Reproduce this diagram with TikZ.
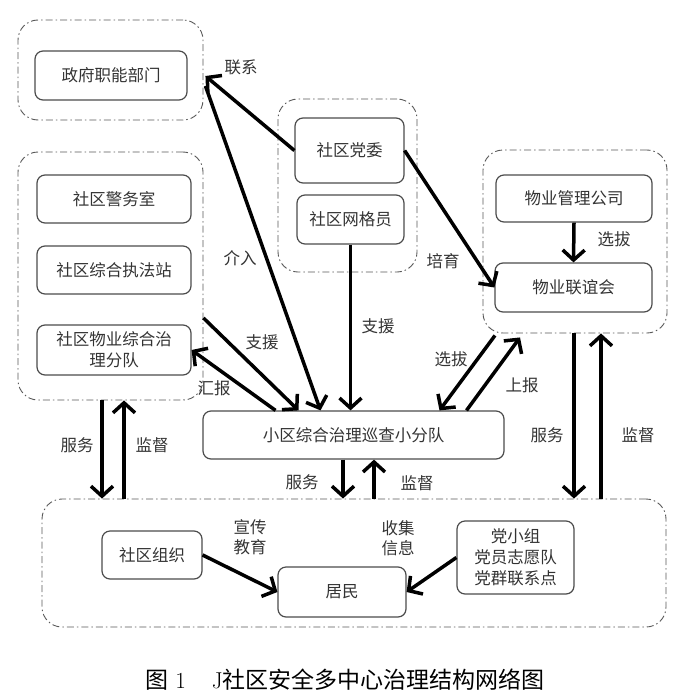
\documentclass[tikz,border=0pt]{standalone}
\usepackage{fontspec}
\newfontfamily\cjk{Noto Sans CJK SC}
\usetikzlibrary{calc,arrows.meta}

\begin{document}
\begin{tikzpicture}[x=1pt,y=-1pt,
 box/.style={draw=black!70,line width=1.2pt,rounded corners=8pt,inner sep=2pt,text=black!80,font=\cjk\fontsize{16.5}{21}\selectfont,align=center},
 grp/.style={draw=black!65,line width=0.9pt,rounded corners=20pt,dash pattern=on 7pt off 3pt on 1.5pt off 3pt},
 arr/.style={line width=3.5pt,-{Straight Barb[length=10pt,width=22pt]}},
 lbl/.style={text=black!80,font=\cjk\fontsize{16.5}{20}\selectfont,align=center}]
 \useasboundingbox (0,0) rectangle (700,698);
 % groups
 \node[grp,minimum width=185pt,minimum height=100pt] (gGov) at (110.5,70) {};
 \node[grp,minimum width=185pt,minimum height=248pt] (gLeft) at (110.5,276) {};
 \node[grp,minimum width=139pt,minimum height=173pt] (gParty) at (347.5,185.5) {};
 \node[grp,minimum width=184pt,minimum height=183pt] (gProp) at (575,241.5) {};
 \node[grp,minimum width=624pt,minimum height=128pt] (gBottom) at (354,563) {};
 % boxes
 \node[box,minimum width=152pt,minimum height=49pt] (gov) at (111,75.5) {政府职能部门};
 \node[box,minimum width=154pt,minimum height=48pt] (police) at (114,199) {社区警务室};
 \node[box,minimum width=154pt,minimum height=48pt] (law) at (114,270) {社区综合执法站};
 \node[box,minimum width=154pt,minimum height=50pt] (squad) at (114,350) {社区物业综合治\\理分队};
 \node[box,minimum width=109pt,minimum height=65pt] (party) at (349.5,150.5) {社区党委};
 \node[box,minimum width=107pt,minimum height=49pt] (grid) at (350.5,219.5) {社区网格员};
 \node[box,minimum width=156pt,minimum height=47pt] (company) at (574,198.5) {物业管理公司};
 \node[box,minimum width=157pt,minimum height=49pt] (assoc) at (573.5,287.5) {物业联谊会};
 \node[box,minimum width=301pt,minimum height=48pt] (patrol) at (353.5,435) {小区综合治理巡查小分队};
 \node[box,minimum width=100pt,minimum height=48pt] (org) at (152,555) {社区组织};
 \node[box,minimum width=128pt,minimum height=50pt] (res) at (342,592) {居民};
 \node[box,minimum width=117pt,minimum height=73pt] (pgrp) at (515.5,557.5) {党小组\\党员志愿队\\党群联系点};
 % upper arrows
 \draw[arr] (party.west) -- ($(gGov.east)+(2,6)$);
 \draw[arr] ($(gGov.east)+(2,16)$) -- ($(patrol.north)+(-33,0)$);
 \draw[arr] ($(gLeft.east)+(0,42)$) -- ($(patrol.north)+(-55,0)$);
 \draw[arr] ($(patrol.north)+(-78,0)$) -- (squad.east);
 \draw[arr] (grid.south) -- (grid.south |- patrol.north);
 \draw[arr] (party.east) -- (assoc.west);
 \draw[arr] (company.south) -- (assoc.north);
 \draw[arr] ($(gProp.south)+(-80,2)$) -- ($(patrol.north)+(86,0)$);
 \draw[arr] ($(patrol.north)+(113,0)$) -- ($(gProp.south)+(-55,4)$);
 % vertical pairs
 \coordinate (sL) at ($(gLeft.south)+(-8.5,0)$); \coordinate (jL) at ($(gLeft.south)+(13.5,0)$);
 \coordinate (sM) at ($(patrol.south)+(-10.5,0)$); \coordinate (jM) at ($(patrol.south)+(20.5,0)$);
 \coordinate (sR) at ($(gProp.south)+(-1,0)$); \coordinate (jR) at ($(gProp.south)+(26,0)$);
 \foreach \s/\j in {sL/jL,sM/jM,sR/jR} {\draw[arr] (\s) -- (\s |- gBottom.north); \draw[arr] (\j |- gBottom.north) -- (\j);}
 % bottom arrows
 \draw[arr] (org.east) -- (res.west);
 \draw[arr] (pgrp.west) -- (res.east);
 % labels
 \node[lbl] (l1) at (241,67) {联系}; \node[lbl] (l2) at (240,258) {介入};
 \node[lbl] (l3) at (262,342) {支援}; \node[lbl] (l4) at (214,388) {汇报};
 \node[lbl] (l5) at (378,326) {支援}; \node[lbl] (l6) at (443,261) {培育};
 \node[lbl] (l7) at (614,239) {选拔}; \node[lbl] (l8) at (451,359) {选拔};
 \node[lbl] (l9) at (522,385) {上报};
 \node[lbl] (l10) at (77,445) {服务}; \node[lbl] (l11) at (152,445) {监督};
 \node[lbl] (l12) at (302,482) {服务}; \node[lbl] (l13) at (417,483) {监督};
 \node[lbl] (l14) at (547,435) {服务}; \node[lbl] (l15) at (638,435) {监督};
 \node[lbl] (l16) at (250,537) {宣传\\教育}; \node[lbl] (l17) at (398,538) {收集\\信息};
 % caption
 \node (cap) at (345,680) {\fontsize{23}{25}\selectfont{\cjk 图} 1\hspace{26pt}J{\cjk 社区安全多中心治理结构网络图}};
\end{tikzpicture}
\end{document}
